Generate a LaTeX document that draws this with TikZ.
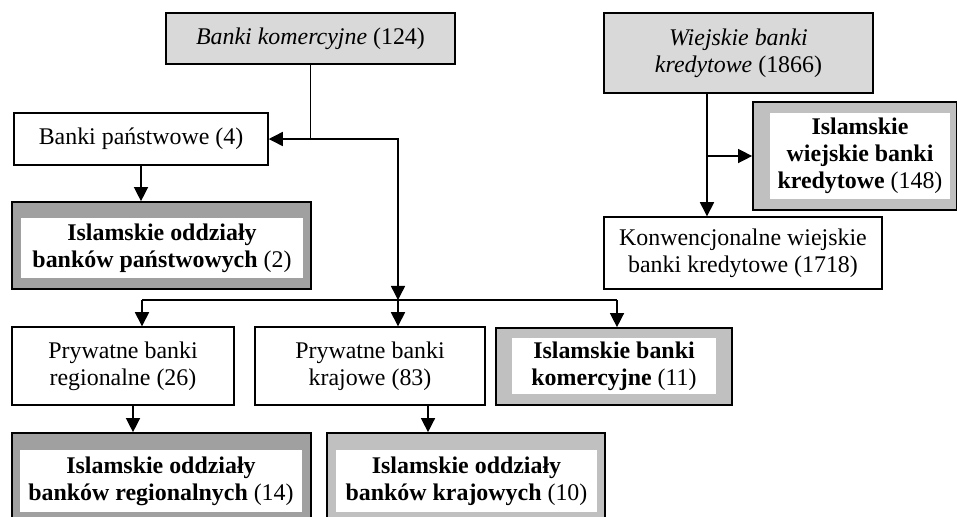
\documentclass[tikz,border=0pt]{standalone}
\usepackage{fontspec}
\setmainfont{Liberation Serif}
\usetikzlibrary{arrows.meta}
\usepackage{xcolor}

\definecolor{topgray}{RGB}{217,217,217}
\definecolor{darkframe}{RGB}{160,160,160}
\definecolor{lightframe}{RGB}{192,192,192}

\tikzset{
  box/.style={draw, line width=1pt, align=center, inner sep=0pt, font=\fontsize{17}{19.1}\selectfont},
  topbox/.style={box, fill=topgray},
  darkbox/.style={draw, line width=1.2pt, fill=darkframe, inner sep=0pt},
  lightbox/.style={draw, line width=1.2pt, fill=lightframe, inner sep=0pt},
  inbox/.style={fill=white, align=center, inner sep=0pt, font=\fontsize{17}{19.1}\selectfont\bfseries},
  arr/.style={line width=1pt, -{Triangle[length=10pt,width=10pt]}},
  lin/.style={line width=1pt}
}

\begin{document}
\begin{tikzpicture}[x=0.025cm, y=-0.025cm]
\useasboundingbox (0,0) rectangle (957,516);
\clip (0,0) rectangle (957,516);

\node[topbox, minimum width=7.225cm, minimum height=1.275cm] (kom) at (310.5,38.5) {\textit{Banki komercyjne} (124)};
\node[topbox, minimum width=6.725cm, minimum height=2cm] (wies) at (738.5,53) {\textit{Wiejskie banki}\\\textit{kredytowe} (1866)};
\node[box, minimum width=6.35cm, minimum height=1.3cm] (pan) at (141,139) {Banki państwowe (4)};
\node[darkbox, minimum width=7.475cm, minimum height=2.175cm] (ipan) at (161.5,245.5) {};
\node[inbox, minimum width=7.05cm, minimum height=1.5cm] (ipant) at (162,248) {Islamskie oddziały\\banków państwowych \mdseries(2)};
\node[lightbox, minimum width=5.1cm, minimum height=2.7cm] (iwies) at (855,156) {};
\node[inbox, minimum width=4.5cm, minimum height=2.125cm] (iwiest) at (860,156) {Islamskie\\wiejskie banki\\kredytowe \mdseries(148)};
\node[box, minimum width=6.95cm, minimum height=1.8cm] (konw) at (743,253) {Konwencjonalne wiejskie\\banki kredytowe (1718)};
\node[box, minimum width=5.55cm, minimum height=1.95cm] (preg) at (123,366) {Prywatne banki\\regionalne (26)};
\node[box, minimum width=5.75cm, minimum height=1.95cm] (pkra) at (370,366) {Prywatne banki\\krajowe (83)};
\node[lightbox, minimum width=5.9cm, minimum height=1.925cm] (ikom) at (614,366.5) {};
\node[inbox, minimum width=5.1cm, minimum height=1.4cm] (ikomt) at (614,366) {Islamskie banki\\komercyjne \mdseries(11)};
\node[darkbox, minimum width=7.475cm, minimum height=2.25cm] (ireg) at (161.5,478) {};
\node[inbox, minimum width=7.05cm, minimum height=1.55cm] (iregt) at (161,481) {Islamskie oddziały\\banków regionalnych \mdseries(14)};
\node[lightbox, minimum width=6.95cm, minimum height=2.25cm] (ikra) at (466,478) {};
\node[inbox, minimum width=6.525cm, minimum height=1.55cm] (ikrat) at (466.5,481) {Islamskie oddziały\\banków krajowych \mdseries(10)};

\coordinate (kjct) at (kom.south |- pan.east);
\coordinate (busL) at (142,300);
\coordinate (busM) at (398,300);
\coordinate (busR) at (617,300);
\coordinate (wline) at (707,0);

\draw[arr] (kom.south) |- (pan.east);
\draw[arr] (kjct) -| (busM);
\draw[lin] (busL) -- (busR);
\draw[arr] (busL) -- (busL |- preg.north);
\draw[arr] (busM) -- (busM |- pkra.north);
\draw[arr] (busR) -- (busR |- ikom.north);
\draw[arr] (pan.south) -- (pan.south |- ipan.north);
\draw[arr] ([xshift=0.25cm]preg.south) -- ([xshift=0.25cm]preg.south |- ireg.north);
\draw[arr] ([xshift=1.45cm]pkra.south) -- ([xshift=1.45cm]pkra.south |- ikra.north);
\draw[arr] (wline |- wies.south) -- (wline |- konw.north);
\draw[arr] (wline |- iwies.west) -- (iwies.west);

\end{tikzpicture}
\end{document}
